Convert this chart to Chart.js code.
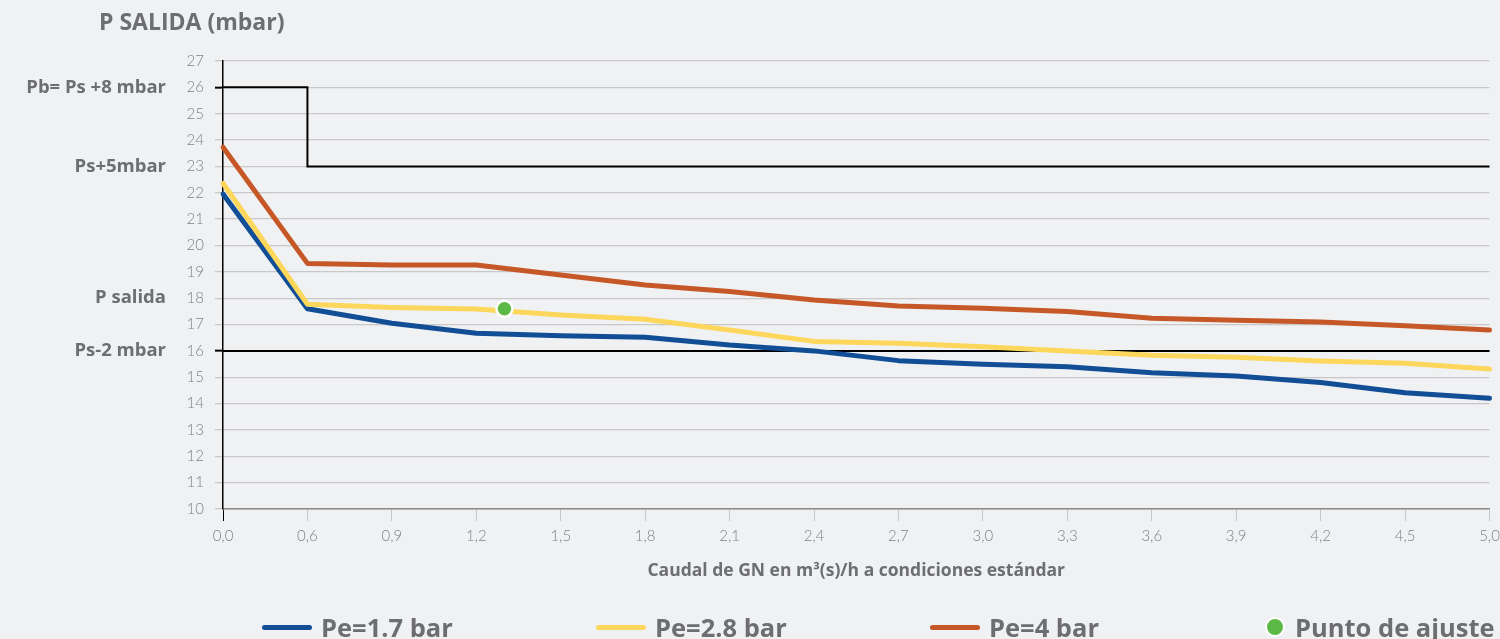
<!DOCTYPE html>
<html>
<head>
<meta charset="utf-8">
<script src="https://cdn.jsdelivr.net/npm/chart.js@4.4.0/dist/chart.umd.min.js"></script>
<style>
  body { margin: 0; background: #f0f1f3; font-family: 'Open Sans', Lato, sans-serif; }
  #wrap { position: relative; width: 1500px; height: 639px; }
  #title { position: absolute; left: 99px; top: 5px; font-size: 23px; font-weight: bold; color: #6d6e71; }
  #legend { position: absolute; left: 262px; top: 611px; display: flex; }
  .item { width: 334px; display: flex; align-items: center; height: 32px; }
  .swatch { width: 50px; height: 5px; border-radius: 3px; margin-right: 9px; }
  .dot { width: 16px; height: 16px; border-radius: 50%; border: 2px solid #fff; margin: 0 10px 0 1px; }
  .txt { font-size: 25.5px; font-weight: bold; color: #6d6e71; }
</style>
</head>
<body>
<div id="wrap">
  <canvas id="presChart" width="1500" height="639"></canvas>
  <div id="title">P SALIDA (mbar)</div>
  <div id="legend"></div>
</div>
<script>
// caudal (m3(s)/h) - categorias del eje X
const flowLabels = ['0,0', '0,6', '0,9', '1,2', '1,5', '1,8', '2,1', '2,4', '2,7', '3,0', '3,3', '3,6', '3,9', '4,2', '4,5', '5,0'];
const flowValues = [0, 0.6, 0.9, 1.2, 1.5, 1.8, 2.1, 2.4, 2.7, 3.0, 3.3, 3.6, 3.9, 4.2, 4.5, 5.0];

// presion de salida (mbar) por presion de entrada
const pe17 = [21.95, 17.6, 17.05, 16.67, 16.57, 16.52, 16.22, 16.0, 15.63, 15.49, 15.4, 15.17, 15.05, 14.8, 14.41, 14.2];
const pe28 = [22.36, 17.77, 17.65, 17.59, 17.36, 17.2, 16.79, 16.36, 16.29, 16.16, 16.0, 15.83, 15.76, 15.62, 15.53, 15.31];
const pe4 = [23.73, 19.32, 19.26, 19.26, 18.88, 18.5, 18.25, 17.93, 17.7, 17.62, 17.49, 17.24, 17.16, 17.1, 16.95, 16.79];

// limites
const pbLimit = [26, 23, 23, 23, 23, 23, 23, 23, 23, 23, 23, 23, 23, 23, 23, 23];
const psMin = [16, 16, 16, 16, 16, 16, 16, 16, 16, 16, 16, 16, 16, 16, 16, 16];

// punto de ajuste
const adjFlow = 1.3;
const adjPressure = 17.6;

// etiquetas de referencia a la izquierda
const refValues = [26, 23, 18, 16];
const refLabels = ['Pb= Ps +8 mbar', 'Ps+5mbar', 'P salida', 'Ps-2 mbar'];
const blackTicks = [26, 16];

const seriesNames = ['Pe=1.7 bar', 'Pe=2.8 bar', 'Pe=4 bar'];
const seriesColors = ['#114e96', '#fdd65c', '#c55826'];
const adjColor = '#5cb946';
const greyText = '#6d6e71';
const gridGrey = '#c8c8c8';

// posicion del punto de ajuste en el eje de categorias
function flowToIndex(f) {
    for (let i = 0; i < flowValues.length - 1; i++) {
        if (f >= flowValues[i] && f <= flowValues[i + 1]) {
            return i + (f - flowValues[i]) / (flowValues[i + 1] - flowValues[i]);
        }
    }
    return flowValues.length - 1;
}

const sideLabels = {
    id: 'sideLabels',
    afterDraw(chart) {
        const { ctx, scales: { y } } = chart;
        ctx.save();
        ctx.font = 'bold 18.5px "Open Sans"';
        ctx.fillStyle = greyText;
        ctx.textAlign = 'right';
        ctx.textBaseline = 'middle';
        refValues.forEach((v, i) => ctx.fillText(refLabels[i], 166, y.getPixelForValue(v)));
        ctx.restore();
    }
};

function lineSet(label, data, color) {
    return {
        label: label,
        data: data,
        borderColor: color,
        backgroundColor: color,
        borderWidth: 5,
        borderCapStyle: 'round',
        borderJoinStyle: 'round',
        pointRadius: 0,
        tension: 0,
        fill: false
    };
}

const ctx = document.getElementById('presChart').getContext('2d');
const chart = new Chart(ctx, {
    type: 'line',
    data: {
        labels: flowLabels,
        datasets: [
            {
                label: 'Punto de ajuste',
                type: 'scatter',
                xAxisID: 'x2',
                data: [{ x: flowToIndex(adjFlow), y: adjPressure }],
                pointRadius: 8,
                pointBackgroundColor: adjColor,
                pointBorderColor: '#ffffff',
                pointBorderWidth: 2.5
            },
            lineSet(seriesNames[2], pe4, seriesColors[2]),
            lineSet(seriesNames[1], pe28, seriesColors[1]),
            lineSet(seriesNames[0], pe17, seriesColors[0]),
            {
                label: 'Pb',
                data: pbLimit,
                borderColor: '#000',
                borderWidth: 2,
                stepped: true,
                pointRadius: 0
            },
            {
                label: 'Ps-2',
                data: psMin,
                borderColor: '#000',
                borderWidth: 2,
                pointRadius: 0
            }
        ]
    },
    options: {
        responsive: false,
        animation: false,
        layout: { padding: { left: 0, right: 0, top: 61, bottom: 57 } },
        plugins: {
            legend: { display: false },
            tooltip: { enabled: false }
        },
        scales: {
            x: {
                type: 'category',
                offset: false,
                afterFit: function(scale) {
                    scale.height = 73;
                    scale.paddingRight = 10;
                },
                grid: {
                    drawOnChartArea: false,
                    tickLength: 12,
                    tickColor: c => c.index === 0 ? '#000' : gridGrey,
                    color: gridGrey
                },
                border: { color: '#8a8a8a', width: 1.5 },
                ticks: {
                    autoSkip: false,
                    maxRotation: 0,
                    padding: 6,
                    color: '#808285',
                    font: { family: 'Lato', size: 15, weight: '300' }
                },
                title: {
                    display: true,
                    text: 'Caudal de GN en m³(s)/h a condiciones estándar',
                    color: greyText,
                    padding: 0,
                    font: { family: 'Open Sans', size: 17.5, weight: 'bold' }
                }
            },
            x2: {
                type: 'linear',
                display: false,
                min: 0,
                max: flowLabels.length - 1
            },
            y: {
                min: 10,
                max: 27,
                afterFit: function(scale) { scale.width = 223; },
                ticks: {
                    stepSize: 1,
                    padding: 11,
                    color: '#808285',
                    font: { family: 'Lato', size: 15, weight: '300' }
                },
                grid: {
                    color: gridGrey,
                    lineWidth: 1.3,
                    tickLength: 8,
                    tickColor: c => (c.tick && blackTicks.includes(c.tick.value)) ? '#000' : gridGrey,
                    tickWidth: c => (c.tick && blackTicks.includes(c.tick.value)) ? 2 : 1.3
                },
                border: { color: '#000', width: 1.5 }
            }
        }
    },
    plugins: [sideLabels]
});

// leyenda
const legend = document.getElementById('legend');
seriesNames.forEach((name, i) => {
    legend.innerHTML += `<div class="item"><div class="swatch" style="background:${seriesColors[i]}"></div><span class="txt">${name}</span></div>`;
});
legend.innerHTML += `<div class="item"><div class="dot" style="background:${adjColor}"></div><span class="txt">Punto de ajuste</span></div>`;
</script>
</body>
</html>
